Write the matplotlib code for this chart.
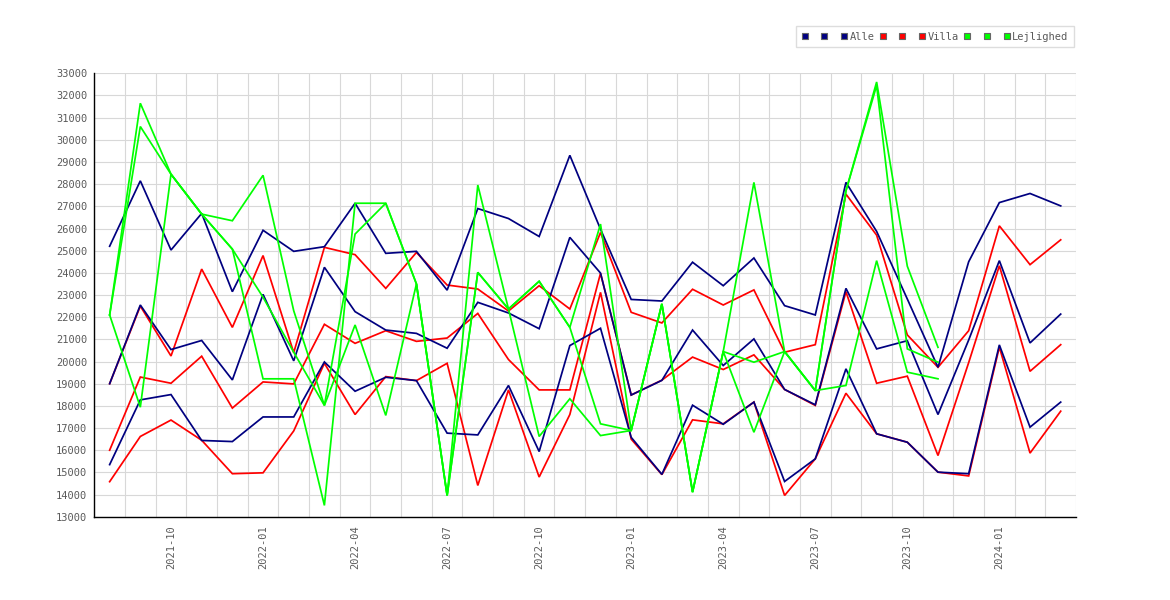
import numpy as np
import matplotlib
matplotlib.use("Agg")
import matplotlib.pyplot as plt
from matplotlib.lines import Line2D

nan = np.nan

months = [
    "2021-08", "2021-09", "2021-10", "2021-11", "2021-12",
    "2022-01", "2022-02", "2022-03", "2022-04", "2022-05", "2022-06",
    "2022-07", "2022-08", "2022-09", "2022-10", "2022-11", "2022-12",
    "2023-01", "2023-02", "2023-03", "2023-04", "2023-05", "2023-06",
    "2023-07", "2023-08", "2023-09", "2023-10", "2023-11", "2023-12",
    "2024-01", "2024-02", "2024-03",
]

# Alle
alle_hi = [25200, 28150, 25030, 26680, 23150, 25920, 24970, 25180, 27140, 24880,
           24970, 23220, 26900, 26450, 25640, 29300, 25970, 22800, 22730, 24480,
           23420, 24670, 22520, 22100, 28080, 25870, 22820, 19740, 24500, 27170,
           27580, 27020]
alle_mid = [19000, 22550, 20540, 20950, 19170, 23030, 20030, 24250, 22250, 21420,
            21270, 20600, 22670, 22190, 21480, 25600, 23990, 18490, 19150, 21420,
            19820, 21020, 18740, 18050, 23300, 20570, 20940, 17610, 20970, 24550,
            20840, 22140]
alle_lo = [15350, 18270, 18510, 16440, 16390, 17500, 17500, 19980, 18660, 19290,
           19140, 16770, 16690, 18920, 15940, 20720, 21500, 16580, 14910, 18030,
           17170, 18170, 14590, 15610, 19670, 16740, 16360, 15010, 14940, 20750,
           17040, 18170]

# Villa
villa_hi = [19000, 22500, 20250, 24170, 21540, 24780, 20400, 25150, 24820, 23300,
            24920, 23450, 23270, 22280, 23420, 22370, 25820, 22220, 21740, 23260,
            22550, 23230, 20420, 20760, 27550, 25700, 21200, 19740, 21390, 26120,
            24370, 25490]
villa_mid = [16000, 19300, 19020, 20240, 17900, 19080, 18990, 21680, 20820, 21390,
             20910, 21060, 22170, 20090, 18720, 18720, 23980, 18490, 19160, 20200,
             19640, 20300, 18740, 18020, 23150, 19020, 19340, 15760, 19950, 24320,
             19560, 20760]
villa_lo = [14580, 16620, 17360, 16450, 14940, 14980, 16870, 19920, 17610, 19320,
            19140, 19920, 14410, 18720, 14790, 17610, 23120, 16500, 14900, 17370,
            17190, 18170, 13960, 15610, 18570, 16740, 16360, 15010, 14840, 20650,
            15870, 17760]

# Lejlighed (no data after 2023-11)
lejl_a = [22100, 31650, 28450, 26650, 26350, 28400, 22290, 18020, 25750, 27140,
          23500, 13960, 27960, 22370, 23620, 21540, 26200, 16890, 22600, 14110,
          20450, 28080, 20450, 18690, 27700, 32610, 24300, 20640, nan, nan,
          nan, nan]
lejl_b = [22100, 30600, 28450, 26650, 25070, 22900, 20420, 18020, 21650, 17570,
          23500, 13960, 24020, 22370, 23620, 21540, 17190, 16890, 22600, 14110,
          20450, 19970, 20450, 18690, 27700, 32450, 20570, 19970, nan, nan,
          nan, nan]
lejl_c = [22100, 17940, 28450, 26650, 25070, 19220, 19220, 13510, 27140, 27140,
          23500, 13960, 24020, 22370, 16620, 18320, 16660, 16890, 22600, 14110,
          20450, 16810, 20450, 18690, 18920, 24550, 19520, 19220, nan, nan,
          nan, nan]

series = [
    ("Alle", "#000080", [alle_hi, alle_mid, alle_lo], 3),
    ("Villa", "#ff0000", [villa_hi, villa_mid, villa_lo], 2),
    ("Lejlighed", "#00ff00", [lejl_a, lejl_b, lejl_c], 4),
]

mono = "DejaVu Sans Mono"
txt_col = "#5a5a5a"

fig = plt.figure(figsize=(11.7, 6.0), dpi=100)
ax = fig.add_axes([0.0806, 0.1388, 0.8391, 0.739])

x = np.arange(len(months))
for name, col, lines, z in series:
    for vals in lines:
        ax.plot(x, vals, color=col, lw=1.25, zorder=z, solid_joinstyle="miter")

ax.set_xlim(-0.5, len(months) - 0.5)
ax.set_ylim(13000, 33000)
ax.set_yticks(np.arange(13000, 33001, 1000))

tick_idx = [i for i, m in enumerate(months) if m[5:] in ("01", "04", "07", "10")]
ax.set_xticks(tick_idx)
ax.set_xticklabels([months[i] for i in tick_idx], rotation=90)
ax.set_xticks(np.arange(-0.5, len(months), 1), minor=True)

ax.grid(which="minor", axis="x", color="#d8d8d8", lw=0.8, zorder=0)
ax.grid(which="major", axis="y", color="#d8d8d8", lw=0.8, zorder=0)
ax.set_axisbelow(True)

ax.tick_params(which="both", length=0)
ax.tick_params(axis="y", pad=5)
ax.tick_params(axis="x", pad=6)
for lab in ax.get_xticklabels() + ax.get_yticklabels():
    lab.set_fontfamily(mono)
    lab.set_fontsize(7.5)
    lab.set_color(txt_col)

for side in ("top", "right"):
    ax.spines[side].set_visible(False)
for side in ("left", "bottom"):
    ax.spines[side].set_color("black")
    ax.spines[side].set_linewidth(1.0)

handles, labels = [], []
for name, col, lines, z in series:
    for k in range(3):
        handles.append(Line2D([], [], marker="s", linestyle="none",
                              markerfacecolor=col, markeredgecolor="#666666",
                              markeredgewidth=0.8, markersize=5))
        labels.append(name if k == 2 else " ")

leg = fig.legend(handles, labels, ncol=9, loc="center right",
                 bbox_to_anchor=(1079 / 1170, 1 - 36.5 / 600),
                 prop={"family": mono, "size": 7.5}, labelcolor=txt_col,
                 handlelength=0.6, handletextpad=0.25, columnspacing=0.45,
                 borderpad=0.5, frameon=True, fancybox=False,
                 edgecolor="#dddddd", framealpha=1)
leg.get_frame().set_linewidth(1.0)

fig.savefig("out.png", dpi=100)
